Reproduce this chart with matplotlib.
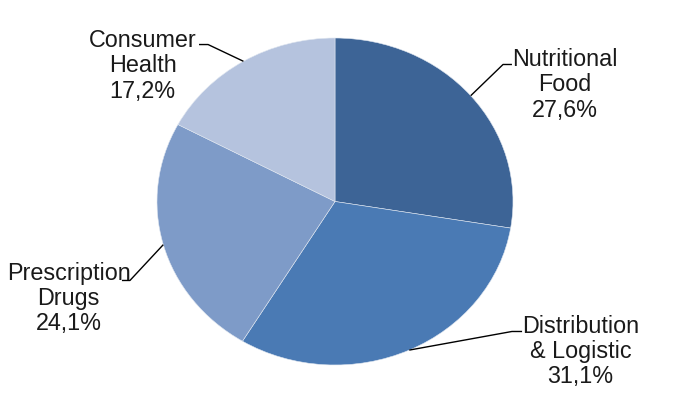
import numpy as np
import matplotlib.pyplot as plt

# segment data (clockwise from 12 o'clock)
labels = ["Nutritional\nFood", "Distribution\n& Logistic", "Prescription\nDrugs", "Consumer\nHealth"]
shares = [27.6, 31.1, 24.1, 17.2]
colors = ["#3D6496", "#4A7AB4", "#7E9BC8", "#B5C3DE"]

# label layout in axes data units: text centre, leader elbow, leader end
text_pos = [(1.292, 0.713), (1.379, -0.917), (-1.497, -0.593), (-1.081, 0.829)]
elbow_pos = [(0.944, 0.838), (0.994, -0.795), (-1.152, -0.483), (-0.713, 0.960)]
end_pos = [(0.994, 0.838), (1.051, -0.795), (-1.197, -0.483), (-0.764, 0.960)]

plt.rcParams['font.family'] = ['Liberation Sans', 'DejaVu Sans']

fig = plt.figure(figsize=(6.77, 4.12), dpi=100)
ax = fig.add_axes([157 / 677, 47 / 412, 356 / 677, 327 / 412])

wedges, _ = ax.pie(shares, colors=colors, startangle=90, counterclock=False,
                   radius=1.0, wedgeprops=dict(edgecolor="#dfe6f0", linewidth=0.4))
ax.set_aspect('auto')
ax.set_xlim(-1, 1)
ax.set_ylim(-1, 1)
ax.axis('off')

start = 90.0
for lab, val, tp, ep, hp in zip(labels, shares, text_pos, elbow_pos, end_pos):
    mid = np.deg2rad(start - val * 3.6 / 2)
    start -= val * 3.6
    px, py = np.cos(mid), np.sin(mid)
    ax.plot([px, ep[0], hp[0]], [py, ep[1], hp[1]], color="black",
            linewidth=1.0, clip_on=False, solid_capstyle='butt')
    txt = lab + "\n" + ("%.1f%%" % val).replace(".", ",")
    ax.text(tp[0], tp[1], txt, ha='center', va='center', fontsize=16.8,
            linespacing=1.12, color="#1a1a1a", clip_on=False)

fig.savefig("out.png", dpi=100)
